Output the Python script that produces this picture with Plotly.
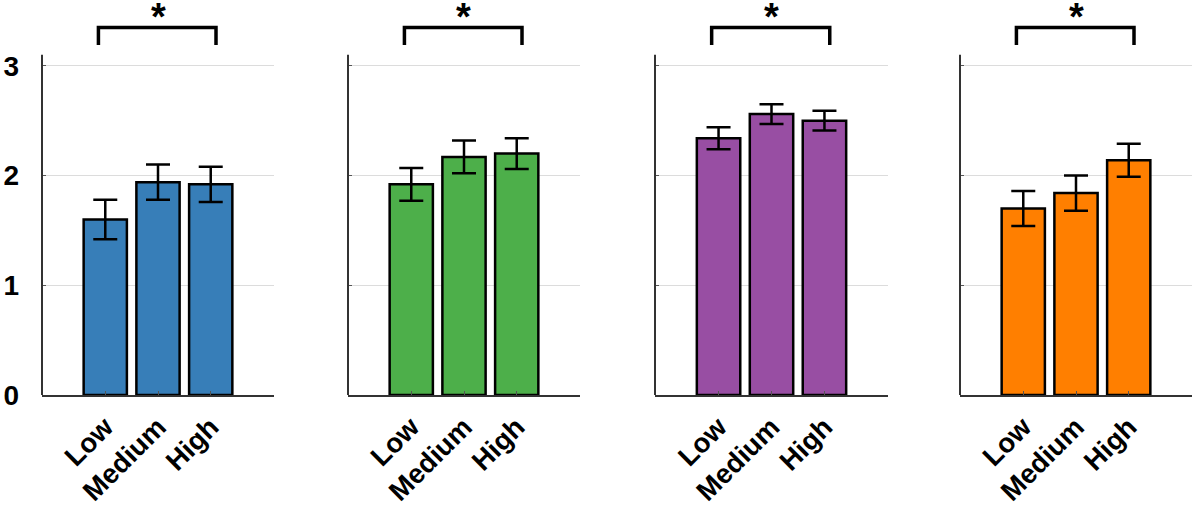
import plotly.graph_objects as go

categories = ["Low", "Medium", "High"]
means = [
    [1.60, 1.94, 1.92],
    [1.92, 2.17, 2.20],
    [2.34, 2.56, 2.50],
    [1.70, 1.84, 2.14],
]
errors = [
    [0.18, 0.16, 0.16],
    [0.15, 0.15, 0.14],
    [0.10, 0.09, 0.09],
    [0.16, 0.16, 0.15],
]
colors = ["#377eb8", "#4daf4a", "#984ea3", "#ff7f00"]
ytick_vals = [0, 1, 2, 3]
sig_label = "*"

domains = [(42, 274), (348, 580), (655, 888), (960, 1192)]
W, H = 1196, 509

fig = go.Figure()
FONT = "Liberation Sans, Arial, sans-serif"

for i in range(4):
    xa = "x" if i == 0 else f"x{i+1}"
    ya = "y" if i == 0 else f"y{i+1}"
    fig.add_trace(go.Bar(
        x=categories, y=means[i], xaxis=xa, yaxis=ya,
        marker=dict(color=colors[i], line=dict(color="black", width=2.5)),
        error_y=dict(type="data", array=errors[i], color="black", thickness=2.5, width=12),
        showlegend=False,
    ))
    d0, d1 = domains[i]
    xkey = "xaxis" if i == 0 else f"xaxis{i+1}"
    ykey = "yaxis" if i == 0 else f"yaxis{i+1}"
    fig.update_layout(**{
        xkey: dict(domain=[d0 / W, d1 / W], anchor=ya, type="category",
                   range=[-1.2, 3.2], showline=True, linecolor="#333", linewidth=2,
                   ticks="inside", ticklen=4, tickcolor="#555", tickwidth=1,
                   tickangle=-45, showgrid=False, zeroline=False, automargin=False,
                   ticklabelstandoff=3,
                   tickfont=dict(family=FONT, size=27.5, color="black", weight="bold")),
        ykey: dict(domain=[0, 1], anchor=xa, range=[0, 3.6], showline=False,
                   tickvals=ytick_vals, ticks="inside", ticklen=4, tickcolor="#555",
                   showgrid=True, gridcolor="#dcdcdc", gridwidth=1, zeroline=False,
                   showticklabels=(i == 0), automargin=False, ticklabelstandoff=22,
                   tickfont=dict(family=FONT, size=28, color="black", weight="bold")),
    })
    fig.add_shape(type="line", xref=f"{xa} domain", yref=ya, x0=0, x1=0, y0=0, y1=3.1,
                  line=dict(color="#333", width=2))
    fig.add_shape(type="path", xref=xa, yref=ya,
                  path="M -0.13,3.19 L -0.13,3.35 L 2.1,3.35 L 2.1,3.19",
                  line=dict(color="black", width=3.5))
    fig.add_annotation(x=1, y=3.24, xref=xa, yref=ya, text=sig_label, showarrow=False,
                       yanchor="bottom", font=dict(family=FONT, size=38, color="black", weight="bold"))

fig.update_layout(
    width=W, height=H, plot_bgcolor="white", paper_bgcolor="white",
    margin=dict(l=0, r=0, t=0, b=114), bargap=0.18,
)
fig.write_html("out.html", config={"displayModeBar": False},
               post_script="document.body.style.margin='0';")
